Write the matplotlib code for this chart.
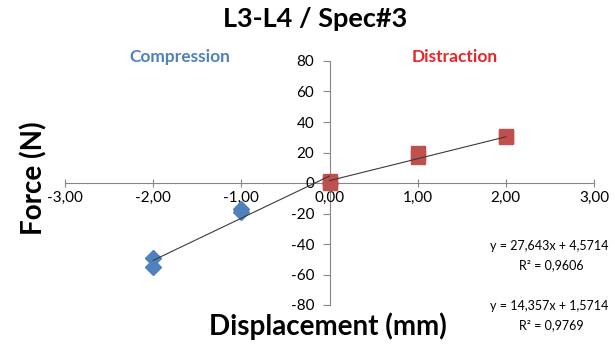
import matplotlib
matplotlib.use("Agg")
import matplotlib.pyplot as plt
import numpy as np

plt.rcParams['font.family'] = ['Lato', 'DejaVu Sans']

# Measured force (N) against displacement (mm)
compression_x = [-2, -2, -1, -1, 0]
compression_y = [-49, -55, -17, -19, 0]
distraction_x = [0, 0, 1, 1, 2, 2]
distraction_y = [0, 1, 17, 20, 30, 31]

# Linear trendline coefficients (slope, intercept, R²)
comp_fit = (27.643, 4.5714, 0.9606)
dist_fit = (14.357, 1.5714, 0.9769)

x_ticks = [-3, -2, -1, 0, 1, 2, 3]
y_ticks = [-80, -60, -40, -20, 0, 20, 40, 60, 80]

blue = '#4F81BD'
red = '#C0504D'
axis_grey = '#868686'

fig = plt.figure(figsize=(6.15, 3.47), dpi=100)
ax = fig.add_axes([65 / 615, 1 - 305 / 347, (594 - 65) / 615, (305 - 61) / 347])
ax.set_xlim(-3, 3)
ax.set_ylim(-80, 80)

for side in ('top', 'right'):
    ax.spines[side].set_visible(False)
ax.spines['left'].set_position(('data', 0))
ax.spines['bottom'].set_position(('data', 0))
for side in ('left', 'bottom'):
    ax.spines[side].set_color(axis_grey)
    ax.spines[side].set_linewidth(0.8)
    ax.spines[side].set_zorder(1)

ax.set_xticks(x_ticks)
ax.set_xticklabels([f"{v:.2f}".replace('.', ',') for v in x_ticks])
ax.set_yticks(y_ticks)
ax.set_yticklabels([str(v) for v in y_ticks])
ax.tick_params(axis='x', direction='inout', length=6, width=0.8, color=axis_grey,
               labelsize=11, pad=3, labelcolor='black')
ax.tick_params(axis='y', direction='out', length=5, width=0.8, color=axis_grey,
               labelsize=11, pad=6, labelcolor='black')

ax.patch.set_alpha(0)

# Data markers
ax.plot(compression_x, compression_y, linestyle='none', marker='D', markersize=8,
        color=blue, markeredgecolor=blue, zorder=3, clip_on=False)
ax.plot(distraction_x, distraction_y, linestyle='none', marker='s', markersize=9.5,
        color=red, markeredgecolor=red, zorder=3, clip_on=False)

# Trendlines
xc = np.array([-2, 0])
ax.plot(xc, comp_fit[0] * xc + comp_fit[1], color='#3a3a3a', linewidth=0.8, zorder=4)
xd = np.array([0, 2])
ax.plot(xd, dist_fit[0] * xd + dist_fit[1], color='#3a3a3a', linewidth=0.8, zorder=4)

def fmt(v, nd):
    return f"{v:.{nd}f}".replace('.', ',')

fig.text(315 / 615, 1 - 19 / 347, "L3-L4 / Spec#3", ha='center', va='center',
         fontsize=19.5, fontweight='bold')
fig.text(180 / 615, 1 - 57 / 347, "Compression", ha='center', va='center',
         fontsize=12.5, fontweight='bold', color=blue)
fig.text(455 / 615, 1 - 57 / 347, "Distraction", ha='center', va='center',
         fontsize=12.5, fontweight='bold', color='#E8262A')
fig.text(34 / 615, 1 - 178 / 347, "Force (N)", ha='center', va='center',
         fontsize=20, fontweight='bold', rotation=90)
fig.text(328 / 615, 1 - 326 / 347, "Displacement (mm)", ha='center', va='center',
         fontsize=20, fontweight='bold')

fig.text(608 / 615, 1 - 246 / 347,
         f"y = {fmt(comp_fit[0], 3)}x + {fmt(comp_fit[1], 4)}",
         ha='right', va='center', fontsize=9)
fig.text(551 / 615, 1 - 265 / 347, f"R² = {fmt(comp_fit[2], 4)}",
         ha='center', va='center', fontsize=9)
fig.text(608 / 615, 1 - 306 / 347,
         f"y = {fmt(dist_fit[0], 3)}x + {fmt(dist_fit[1], 4)}",
         ha='right', va='center', fontsize=9)
fig.text(551 / 615, 1 - 325 / 347, f"R² = {fmt(dist_fit[2], 4)}",
         ha='center', va='center', fontsize=9)

fig.savefig("out.png", dpi=100, facecolor='white')
